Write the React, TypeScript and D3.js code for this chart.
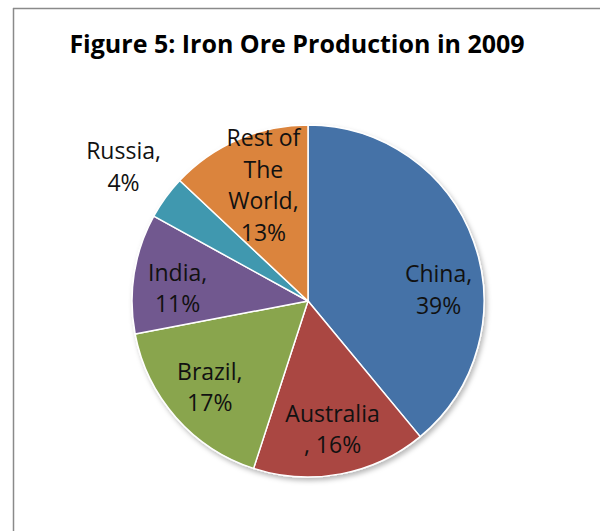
import React from 'react'
import * as d3 from 'd3'

// Iron ore production share, 2009 (clockwise from 12 o'clock)
const countries = ['China', 'Australia', 'Brazil', 'India', 'Russia', 'Rest of The World']
const shares = [39, 16, 17, 11, 4, 13]
const labelLines = [
    ['China,', '39%'],
    ['Australia', ', 16%'],
    ['Brazil,', '17%'],
    ['India,', '11%'],
    ['Russia,', '4%'],
    ['Rest of', 'The', 'World,', '13%'],
]
const colors = ['#4572A7', '#AA4643', '#89A54E', '#71588F', '#4198AF', '#DB843D']

const W = 600, H = 531
const cx = 308, cy = 301, radius = 176

// label placement tweaks (like Excel's "best fit"): fraction along the slice and distance from centre
const labelFrac: Record<string, number> = { 'China': 0.607, 'India': 0.41, 'Rest of The World': 0.55 }
const labelRadius: Record<string, number> = { 'Russia': 228, 'Rest of The World': 124 }

const App = () => {
    const pie = d3.pie<number>().sort(null).value(d => d)
    const arcs = pie(shares)

    const arc = d3.arc<d3.PieArcDatum<number>>().innerRadius(0).outerRadius(radius)

    const labelAt = (d: d3.PieArcDatum<number>, i: number) => {
        const frac = labelFrac[countries[i]] ?? 0.5
        const r = labelRadius[countries[i]] ?? 131
        const a = d.startAngle + (d.endAngle - d.startAngle) * frac
        return [Math.sin(a) * r, -Math.cos(a) * r]
    }

    const lh = 31.5

    return (
        <div style={{ position: 'absolute', left: 0, top: 0 }}>
            <svg width={W} height={H} style={{ display: 'block', background: '#fff' }}>
                <defs>
                    <filter id="shadow" x="-20%" y="-20%" width="140%" height="140%">
                        <feDropShadow dx="2" dy="3" stdDeviation="2.5" floodColor="#000" floodOpacity="0.28" />
                    </filter>
                </defs>

                {/* chart frame */}
                <line x1={13.5} y1={8} x2={13.5} y2={H} stroke="#8a8a8a" strokeWidth={1.5} />
                <line x1={13} y1={8.5} x2={W} y2={8.5} stroke="#8a8a8a" strokeWidth={1.5} />

                <text x={297} y={53} textAnchor="middle"
                    style={{ fontFamily: '"Open Sans", sans-serif', fontWeight: 700, fontSize: 25 }}
                    fill="#000">
                    Figure 5: Iron Ore Production in 2009
                </text>

                <g transform={`translate(${cx},${cy})`}>
                    <g filter="url(#shadow)">
                        {arcs.map((d, i) => (
                            <path key={countries[i]} d={arc(d) || ''} fill={colors[i]}
                                stroke="#fff" strokeWidth={1.5} strokeLinejoin="round" />
                        ))}
                    </g>
                    {arcs.map((d, i) => {
                        const [lx, ly] = labelAt(d, i)
                        const lines = labelLines[i]
                        return (
                            <text key={'l' + i} textAnchor="middle" fill="#111"
                                style={{ fontFamily: '"Open Sans", sans-serif', fontSize: 23 }}>
                                {lines.map((t, j) => (
                                    <tspan key={j} x={lx} y={ly + (j - (lines.length - 1) / 2) * lh} dy="0.35em">{t}</tspan>
                                ))}
                            </text>
                        )
                    })}
                </g>
            </svg>
        </div>
    )
}

export default App
